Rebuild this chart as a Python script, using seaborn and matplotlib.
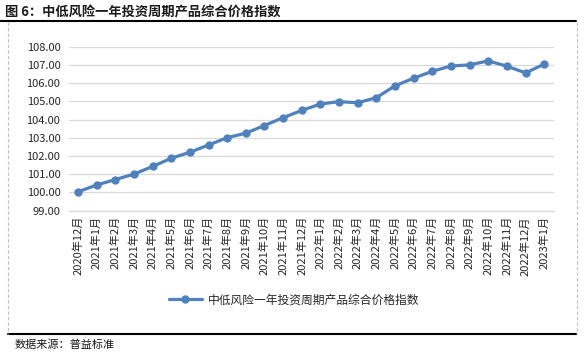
import matplotlib

matplotlib.use("Agg")
import matplotlib.pyplot as plt
import pandas as pd
import seaborn as sns
from matplotlib.lines import Line2D

months = [
    "2020年12月", "2021年1月", "2021年2月", "2021年3月", "2021年4月", "2021年5月",
    "2021年6月", "2021年7月", "2021年8月", "2021年9月", "2021年10月", "2021年11月",
    "2021年12月", "2022年1月", "2022年2月", "2022年3月", "2022年4月", "2022年5月",
    "2022年6月", "2022年7月", "2022年8月", "2022年9月", "2022年10月", "2022年11月",
    "2022年12月", "2023年1月",
]
index_values = [
    100.03, 100.40, 100.70, 101.00, 101.42, 101.87,
    102.20, 102.60, 103.00, 103.25, 103.67, 104.10,
    104.50, 104.85, 104.98, 104.92, 105.20, 105.85,
    106.27, 106.65, 106.94, 107.00, 107.22, 106.93,
    106.56, 107.04,
]
series_name = "中低风险一年投资周期产品综合价格指数"
y_ticks = [99, 100, 101, 102, 103, 104, 105, 106, 107, 108]

sns.set_theme(style="white")
plt.rcParams["font.family"] = ["Noto Sans CJK SC", "DejaVu Sans"]

df = pd.DataFrame({"month": months, "value": index_values, "pos": range(len(months))})

W, H = 588, 355
fig = plt.figure(figsize=(W / 100, H / 100), dpi=100)
fig.patch.set_facecolor("white")

# frame lines around the chart, in pixel coords
def hline(x0, x1, y, **kw):
    fig.add_artist(Line2D([x0 / W, x1 / W], [1 - y / H, 1 - y / H], **kw))

def vline(x, y0, y1, **kw):
    fig.add_artist(Line2D([x / W, x / W], [1 - y0 / H, 1 - y1 / H], **kw))

hline(0, 576, 21.3, color="black", lw=1.5)
hline(8, 576, 334.3, color="black", lw=1.5)
vline(8.3, 22, 334, color="#bfbfbf", lw=0.8, ls=(0, (3, 2)))
vline(576.5, 22, 334, color="#bfbfbf", lw=0.8, ls=(0, (3, 2)))

fig.text(5 / W, 1 - 12 / H, "图 6：中低风险一年投资周期产品综合价格指数",
         fontsize=9.5, fontweight="bold", color="#1a1a1a", va="center", ha="left")
fig.text(15 / W, 1 - 345 / H, "数据来源：普益标准",
         fontsize=8, color="#1a1a1a", va="center", ha="left")

left, right, top, bottom = 68.7, 553.5, 46.7, 210.5
ax = fig.add_axes([left / W, 1 - bottom / H, (right - left) / W, (bottom - top) / H])

sns.lineplot(data=df, x="pos", y="value", ax=ax, color="#4f81bd", linewidth=2.3,
             marker="o", markersize=6, markeredgewidth=0, label=series_name)

ax.set_xlim(-0.5, len(months) - 0.5)
ax.set_ylim(99, 108)
ax.set_yticks(y_ticks)
ax.set_yticklabels([f"{v:.2f}" for v in y_ticks], fontsize=8, color="#262626")
ax.yaxis.grid(True, color="#d9d9d9", linewidth=0.9)
ax.set_axisbelow(True)

ax.set_xticks([i - 0.5 for i in range(len(months) + 1)])
ax.set_xticklabels([])
ax.set_xticks(range(len(months)), minor=True)
ax.set_xticklabels(months, minor=True, rotation=90, fontsize=8, color="#262626")
ax.tick_params(axis="x", which="major", length=5, color="#d9d9d9", width=0.9, direction="out")
ax.tick_params(axis="x", which="minor", length=0, pad=4)
ax.tick_params(axis="y", length=0, pad=6)
ax.set_xlabel("")
ax.set_ylabel("")

for side in ["top", "right", "left"]:
    ax.spines[side].set_visible(False)
ax.spines["bottom"].set_color("#d9d9d9")
ax.spines["bottom"].set_linewidth(0.9)

ax.legend(loc="center", bbox_to_anchor=(0.5, 1 - 300 / H), bbox_transform=fig.transFigure,
          frameon=False, fontsize=8.5, handlelength=2.8, handletextpad=0.5)

fig.savefig("out.png", dpi=100)
